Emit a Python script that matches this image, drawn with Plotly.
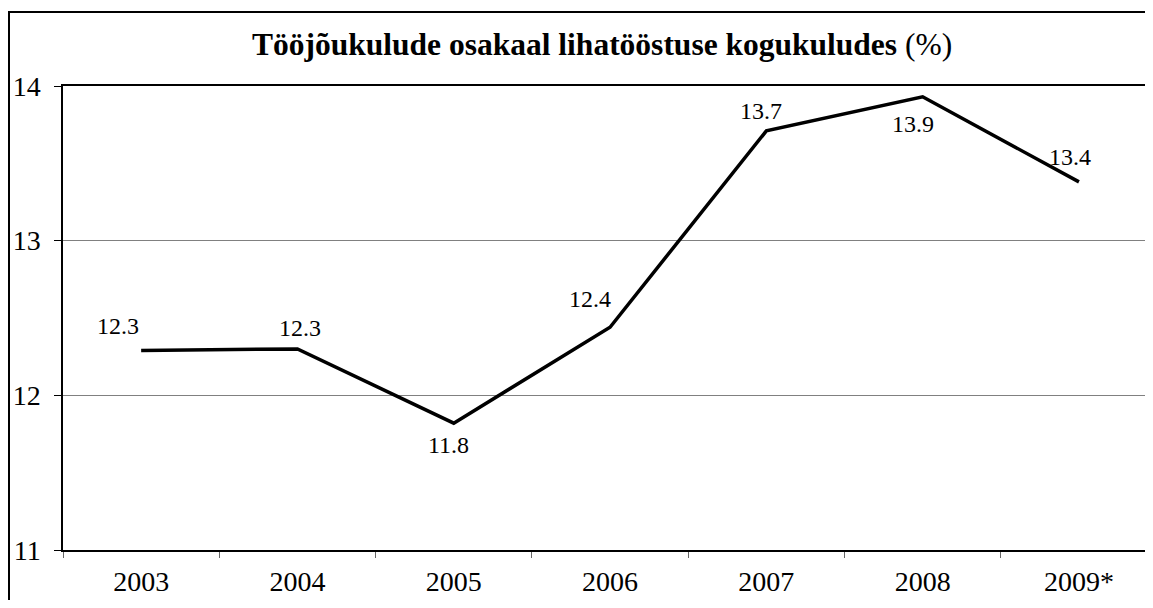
import plotly.graph_objects as go

years = ["2003", "2004", "2005", "2006", "2007", "2008", "2009*"]
values = [12.29, 12.30, 11.82, 12.44, 13.71, 13.93, 13.38]
labels = ["12.3", "12.3", "11.8", "12.4", "13.7", "13.9", "13.4"]
label_dx = [-23, 3, -5, -20, -5, -10, -9]
label_dy = [24, 21, -22, 28, 20, -27, 25]
y_ticks = [11, 12, 13, 14]

FONT = "Liberation Serif"
# the page body has an 8px margin, so the figure is laid out in page-8 coordinates
W, H = 1137, 592
L, T, B = 55, 78, 50
plot_w = W - L
plot_h = H - T - B
cat_w = 156.3

fig = go.Figure()
fig.add_trace(go.Scatter(
    x=years, y=values, mode="lines",
    line=dict(color="black", width=3.5),
    hoverinfo="skip", showlegend=False,
))

for i, (v, lab, dx, dy) in enumerate(zip(values, labels, label_dx, label_dy)):
    fig.add_annotation(x=i, y=v, text=lab, showarrow=False,
                       xshift=dx, yshift=dy,
                       font=dict(family=FONT, size=24, color="black"))

# title
fig.add_annotation(
    xref="paper", yref="paper",
    x=(594 - L) / plot_w, y=(H - B - 37) / plot_h,
    xanchor="center", yanchor="middle", showarrow=False,
    text="<b>Tööjõukulude osakaal lihatööstuse kogukuludes</b> (%)",
    font=dict(family=FONT, size=31.5, color="black"),
)

# outer chart border (left and top sides; the rest lies outside the picture)
bx0 = (1 - L) / plot_w
by_top = (H - B - 4) / plot_h
fig.add_shape(type="path", xref="paper", yref="paper",
              path=f"M {bx0},-0.3 L {bx0},{by_top} L 1.3,{by_top}",
              line=dict(color="black", width=2), layer="above")

fig.update_layout(
    width=W, height=H,
    margin=dict(l=L, r=0, t=T, b=B),
    paper_bgcolor="white", plot_bgcolor="white",
    font=dict(family=FONT, color="black"),
    xaxis=dict(
        type="category", range=[-0.5, -0.5 + plot_w / cat_w],
        showline=True, linecolor="black", linewidth=1.5, mirror=True,
        ticks="outside", tickson="boundaries", ticklen=6, tickcolor="#666666",
        tickwidth=1, showgrid=False,
        tickfont=dict(family=FONT, size=28, color="black"),
        ticklabelstandoff=6,
    ),
    yaxis=dict(
        range=[11, 14], tickvals=y_ticks, ticktext=[str(t) for t in y_ticks],
        showline=True, linecolor="black", linewidth=1.5,
        ticks="outside", ticklen=7, tickcolor="black", tickwidth=1,
        showgrid=True, gridcolor="#808080", gridwidth=1,
        zeroline=False,
        tickfont=dict(family=FONT, size=28, color="black"),
        ticklabelstandoff=8,
    ),
)

fig.write_html("out.html")
